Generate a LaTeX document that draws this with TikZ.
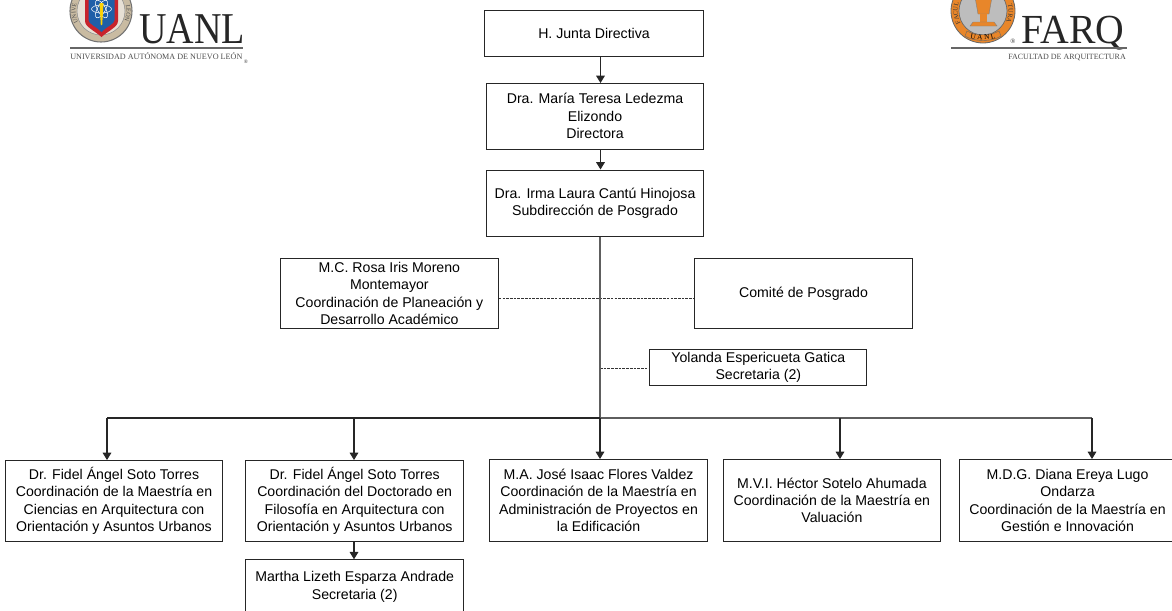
\documentclass[tikz,border=0pt]{standalone}
\usepackage{fontspec}
\setmainfont{Liberation Sans}
\newfontfamily\logoserif{Liberation Serif}
\usetikzlibrary{arrows.meta,decorations.text}
\definecolor{trunk}{HTML}{5E5E5E}
\definecolor{tan1}{HTML}{C9BBA2}
\definecolor{shieldred}{HTML}{C8232C}
\definecolor{shieldblue}{HTML}{1F5FA8}
\definecolor{farqorange}{HTML}{E8862A}
\definecolor{farqgrey}{HTML}{BDBDBD}
\tikzset{
  box/.style={draw=black!85,line width=0.8pt,fill=white,align=center,inner sep=0pt,
    font=\fontsize{10.6pt}{13.1pt}\selectfont,anchor=north west},
  link/.style={draw=black!85,line width=0.8pt},
  heavy/.style={draw=trunk,line width=1.1pt},
  tiplink/.style={link,-{Triangle[length=5.5pt,width=6.5pt]}},
  dashlink/.style={draw=black!80,line width=0.6pt,dash pattern=on 2pt off 0.8pt},
  logotext/.style={inner sep=0pt,anchor=base west,text=black!85},
}
\newcommand{\bx}[6]{% name, x1, y1, x2, y2, text
  \node[box,minimum width=#4*0.75pt-#2*0.75pt,minimum height=#5*0.75pt-#3*0.75pt] (#1) at (#2,#3) {#6};}
\begin{document}
\begin{tikzpicture}[x=0.75pt,y=-0.75pt]
\useasboundingbox (0,0) rectangle (1172,611);
\clip (0,0) rectangle (1172,611);

% UANL logo
\fill[tan1,draw=black!55,line width=0.8pt] (101,11) circle[radius=31];
\path[postaction={decorate,decoration={text along path,text align=center,text={|\logoserif\fontsize{4.6pt}{5pt}\selectfont\color{black!70}|UNIVE}}}]
  (79,23.5) arc[start angle=150,end angle=200,radius=25.5];
\path[postaction={decorate,decoration={text along path,text align=center,text={|\logoserif\fontsize{4.6pt}{5pt}\selectfont\color{black!70}|LEÓN}}}]
  (125,2.3) arc[start angle=340,end angle=390,radius=25.5];
\draw[black!45,fill=tan1!45,line width=0.4pt] (101,11) circle[radius=24];
\fill[shieldred] (85,-5) -- (118,-5) -- (118,21) .. controls (118,27) and (108,31) .. (101.5,37) .. controls (95,31) and (85,27) .. (85,21) -- cycle;
\fill[shieldblue] (88.5,-5) -- (114.5,-5) -- (114.5,20) .. controls (114.5,24) and (106,27) .. (101.5,32) .. controls (97,27) and (88.5,24) .. (88.5,20) -- cycle;
\draw[white,line width=0.4pt] (101.5,9) ellipse[x radius=10,y radius=4];
\draw[white,line width=0.4pt,rotate around={60:(101.5,9)}] (101.5,9) ellipse[x radius=10,y radius=4];
\draw[white,line width=0.4pt,rotate around={-60:(101.5,9)}] (101.5,9) ellipse[x radius=10,y radius=4];
\fill[yellow!70!orange] (99.5,3) -- (103.5,3) -- (102.2,25) -- (100.8,25) -- cycle;
\node[logotext,font=\logoserif\fontsize{33pt}{33pt}\selectfont] (uanlname) at (139,43) {\scalebox{0.865}[1]{UANL}};
\coordinate (ua) at (70,48);
\coordinate (ub) at (243,48);
\draw[black!60,line width=1.1pt] (ua) -- (ub);
\node[logotext,font=\logoserif\fontsize{6.1pt}{6.5pt}\selectfont,text=black!70] (uanlsub) at (70,59) {UNIVERSIDAD AUTÓNOMA DE NUEVO LEÓN};
\node[inner sep=0pt,font=\logoserif\fontsize{4pt}{4pt}\selectfont,text=black!80] (uanlreg) at (246,61.5) {®};

% FARQ logo
\fill[farqorange,draw=black!60,line width=0.6pt] (983,11) circle[radius=32];
\path[postaction={decorate,decoration={text along path,text align=center,text={|\logoserif\fontsize{4.8pt}{5pt}\selectfont\color{black!80}|FACUL}}}]
  (960.9,23.75) arc[start angle=150,end angle=200,radius=25.5];
\path[postaction={decorate,decoration={text along path,text align=center,text={|\logoserif\fontsize{4.8pt}{5pt}\selectfont\color{black!80}|TURA}}}]
  (1007,2.3) arc[start angle=340,end angle=390,radius=25.5];
\fill[farqgrey,draw=black!60,line width=0.5pt] (983,11) circle[radius=24];
\fill[farqorange,draw=black!50,line width=0.3pt] (975,-3) -- (992,-3) -- (989,14) -- (978,14) -- cycle;
\fill[farqorange] (980,14) rectangle (987,22);
\fill[farqorange,draw=black!50,line width=0.3pt] (973,22) -- (994,22) -- (997,26) -- (970,26) -- cycle;
\fill[farqorange,draw=black!60,line width=0.3pt] (967,31) .. controls (975,36) and (991,36) .. (999,31) -- (1001,36) .. controls (992,42) and (974,42) .. (965,36) -- cycle;
\path[postaction={decorate,decoration={text along path,text align=center,text={|\logoserif\fontsize{5.5pt}{6pt}\selectfont|U A N L}}}]
  (966,36.5) .. controls (974,41) and (992,41) .. (1000,36.5);
\node[logotext,font=\logoserif\fontsize{31pt}{31pt}\selectfont] (farqname) at (1021,43) {\scalebox{0.96}[1]{FARQ}};
\coordinate (fa) at (951,48);
\coordinate (fb) at (1127,48);
\draw[black!60,line width=1.1pt] (fa) -- (fb);
\node[logotext,font=\logoserif\fontsize{6pt}{6.5pt}\selectfont,text=black!70] (farqsub) at (1008,59) {FACULTAD DE ARQUITECTURA};
\node[inner sep=0pt,font=\logoserif\fontsize{5pt}{5pt}\selectfont,text=black!80] (farqreg) at (1013,41) {®};

% routing points
\coordinate (top) at (600.5,0);
\coordinate (dashrow) at (0,298.7);
\coordinate (busA) at (107,418);
\coordinate (busB) at (354,418);
\coordinate (busC) at (600,418);
\coordinate (busD) at (840,418);
\coordinate (busE) at (1092,418);
\coordinate (tyol) at (600,368.3);

% boxes
\bx{junta}{484}{9.5}{703}{56}{H. Junta Directiva}
\bx{dir}{486}{83}{703}{148.5}{Dra. María Teresa Ledezma\\Elizondo\\Directora}
\bx{sub}{486}{169.5}{703}{235.5}{Dra. Irma Laura Cantú Hinojosa\\Subdirección de Posgrado}
\bx{rosa}{280}{258}{497.7}{327.7}{M.C. Rosa Iris Moreno\\Montemayor\\Coordinación de Planeación y\\Desarrollo Académico}
\bx{comite}{694.3}{258}{911.7}{327.7}{Comité de Posgrado}
\bx{yol}{649.3}{348.7}{866.3}{385}{Yolanda Espericueta Gatica\\Secretaria (2)}
\bx{fidA}{5}{460}{222}{540.7}{Dr. Fidel Ángel Soto Torres\\Coordinación de la Maestría en\\Ciencias en Arquitectura con\\Orientación y Asuntos Urbanos}
\bx{fidB}{245}{460}{463.3}{540.7}{Dr. Fidel Ángel Soto Torres\\Coordinación del Doctorado en\\Filosofía en Arquitectura con\\Orientación y Asuntos Urbanos}
\bx{mar}{245}{559.3}{463.3}{613}{Martha Lizeth Esparza Andrade\\Secretaria (2)}
\bx{jose}{489.3}{459}{706.7}{540.7}{M.A. José Isaac Flores Valdez\\Coordinación de la Maestría en\\Administración de Proyectos en\\la Edificación}
\bx{hec}{722.7}{459}{940}{540.7}{M.V.I. Héctor Sotelo Ahumada\\Coordinación de la Maestría en\\Valuación}
\bx{dia}{959}{459}{1175}{540.7}{M.D.G. Diana Ereya Lugo\\Ondarza\\Coordinación de la Maestría en\\Gestión e Innovación}

% connectors
\draw[tiplink] (junta.south -| top) -- (dir.north -| top);
\draw[tiplink] (dir.south -| top) -- (sub.north -| top);
\draw[dashlink] (rosa.east |- dashrow) -- (comite.west |- dashrow);
\draw[dashlink] (tyol) -- (yol.west |- tyol);
\draw[heavy] (sub.south -| busC) -- (busC);
\draw[link] (busC) -- (busA);
\draw[heavy] (busC) -- (busE);
\draw[tiplink] (busA) -- (fidA.north -| busA);
\draw[tiplink] (busB) -- (fidB.north -| busB);
\draw[tiplink] (busC) -- (jose.north -| busC);
\draw[tiplink] (busD) -- (hec.north -| busD);
\draw[tiplink] (busE) -- (dia.north -| busE);
\draw[tiplink] (fidB.south -| busB) -- (mar.north -| busB);
\end{tikzpicture}
\end{document}
